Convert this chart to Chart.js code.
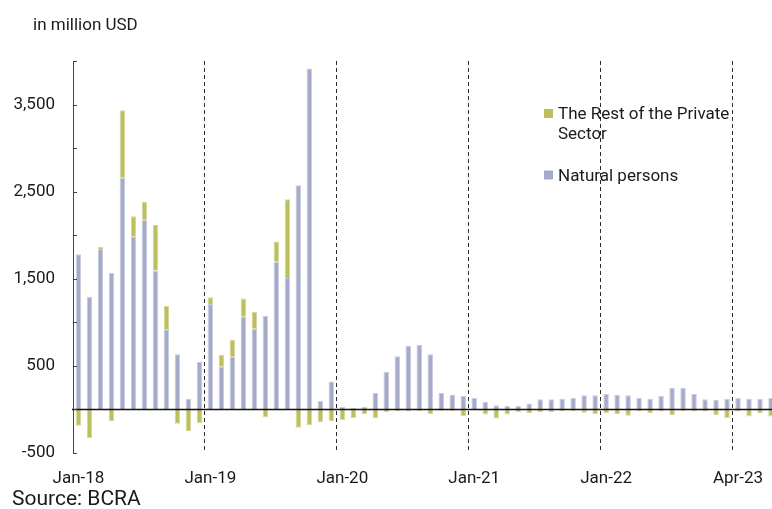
<!DOCTYPE html>
<html>
<head>
<meta charset="utf-8">
<script src="https://cdn.jsdelivr.net/npm/chart.js@4.4.1/dist/chart.umd.min.js"></script>
<style>
  html, body { margin: 0; padding: 0; background: #fff; overflow: hidden; width: 772px; height: 509px; }
  #wrap { position: relative; width: 772px; height: 509px; overflow: hidden; }
  canvas { position: absolute; left: 0; top: 0; }
  .unit { position: absolute; left: 33px; top: 14px; font: 17px Roboto, sans-serif; color: #1a1a1a; line-height: 20px; }
  .source { position: absolute; left: 12px; top: 486px; font: 21px Roboto, sans-serif; color: #1a1a1a; line-height: 24px; }
</style>
</head>
<body>
<div id="wrap">
  <canvas id="c" width="787" height="509"></canvas>
  <div class="unit">in million USD</div>
  <div class="source">Source: BCRA</div>
</div>
<script>
// Monthly categories, Jan-18 .. Apr-23
const months = [
  'Jan-18','Feb-18','Mar-18','Apr-18','May-18','Jun-18','Jul-18','Aug-18','Sep-18','Oct-18','Nov-18','Dec-18',
  'Jan-19','Feb-19','Mar-19','Apr-19','May-19','Jun-19','Jul-19','Aug-19','Sep-19','Oct-19','Nov-19','Dec-19',
  'Jan-20','Feb-20','Mar-20','Apr-20','May-20','Jun-20','Jul-20','Aug-20','Sep-20','Oct-20','Nov-20','Dec-20',
  'Jan-21','Feb-21','Mar-21','Apr-21','May-21','Jun-21','Jul-21','Aug-21','Sep-21','Oct-21','Nov-21','Dec-21',
  'Jan-22','Feb-22','Mar-22','Apr-22','May-22','Jun-22','Jul-22','Aug-22','Sep-22','Oct-22','Nov-22','Dec-22',
  'Jan-23','Feb-23','Mar-23','Apr-23'
];

// Net purchases by natural persons (million USD)
const naturalPersons = [
  1783, 1294, 1841, 1565, 2659, 1982, 2177, 1596, 920, 633, 124, 545,
  1210, 491, 606, 1064, 927, 1076, 1695, 1508, 2575, 3913, 97, 322,
  30, 20, 30, 189, 434, 610, 732, 743, 633, 189, 170, 153,
  132, 86, 48, 40, 40, 67, 117, 117, 124, 132, 163, 163,
  178, 170, 163, 132, 124, 155, 247, 247, 178, 117, 109, 124,
  132, 124, 124, 132
];

// Net purchases by the rest of the private sector (million USD)
const restPrivate = [
  -186, -331, 23, -136, 776, 237, 203, 520, 270, -163, -247, -155,
  77, 134, 191, 211, 195, -90, 234, 906, -209, -181, -143, -132,
  -123, -98, -52, -98, -33, -22, -25, -22, -52, -14, -22, -78,
  -9, -59, -105, -59, -33, -44, -33, -33, -22, -22, -37, -52,
  -44, -52, -71, -25, -44, -25, -63, -22, -25, -25, -63, -101,
  -25, -82, -44, -82
];

// Labelled x positions (every 12th month)
const xTickLabels = ['Jan-18', 'Jan-19', 'Jan-20', 'Jan-21', 'Jan-22', 'Apr-23'];
// Labelled y values
const yTickLabels = [-500, 500, 1500, 2500, 3500];

const FONT = 'Roboto, sans-serif';
const TEXT = '#1a1a1a';

// Year separators, inner y ticks, zero line and the legend
const decorations = {
  id: 'decorations',
  afterDatasetsDraw(chart) {
    const { ctx, chartArea: a, scales: { x, y } } = chart;
    ctx.save();
    // dashed separators between December and January
    ctx.strokeStyle = '#2a2a2a';
    ctx.lineWidth = 1;
    ctx.setLineDash([4, 3]);
    for (let i = 12; i < months.length; i += 12) {
      const px = Math.round((x.getPixelForValue(i - 1) + x.getPixelForValue(i)) / 2) - 0.5;
      ctx.beginPath();
      ctx.moveTo(px, a.top);
      ctx.lineTo(px, a.bottom);
      ctx.stroke();
    }
    ctx.setLineDash([]);
    // zero line
    const y0 = y.getPixelForValue(0);
    ctx.strokeStyle = '#111';
    ctx.lineWidth = 1.5;
    ctx.beginPath();
    ctx.moveTo(a.left - 1, y0);
    ctx.lineTo(a.right, y0);
    ctx.stroke();
    // short tick marks on the inner side of the y axis
    ctx.strokeStyle = '#444';
    ctx.lineWidth = 1;
    y.ticks.forEach(t => {
      const py = Math.round(y.getPixelForValue(t.value)) + 0.5;
      ctx.beginPath();
      ctx.moveTo(a.left, py);
      ctx.lineTo(a.left + 4, py);
      ctx.stroke();
    });
    ctx.restore();
  },
  afterDraw(chart, args, opts) {
    const { ctx } = chart;
    ctx.save();
    ctx.font = '17px ' + FONT;
    ctx.textBaseline = 'alphabetic';
    let baseY = opts.y;
    [1, 0].forEach(di => {
      const ds = chart.data.datasets[di];
      // wrap the label into lines no wider than maxWidth
      const words = ds.label.split(' ');
      const lines = [];
      let cur = '';
      words.forEach(w => {
        const test = cur ? cur + ' ' + w : w;
        if (ctx.measureText(test).width > opts.maxWidth && cur) { lines.push(cur); cur = w; }
        else cur = test;
      });
      lines.push(cur);
      ctx.fillStyle = ds.backgroundColor;
      ctx.fillRect(opts.x, baseY - 10, 9, 9);
      ctx.fillStyle = TEXT;
      lines.forEach((ln, k) => ctx.fillText(ln, opts.x + 14, baseY + k * opts.lineHeight));
      baseY += (lines.length - 1) * opts.lineHeight + opts.itemGap;
    });
    ctx.restore();
  }
};

new Chart(document.getElementById('c'), {
  type: 'bar',
  data: {
    labels: months,
    datasets: [
      {
        label: 'Natural persons',
        data: naturalPersons,
        backgroundColor: '#a5aac9',
        borderColor: '#c9cce0',
        borderWidth: 1,
        barPercentage: 0.5,
        categoryPercentage: 1.0
      },
      {
        label: 'The Rest of the Private Sector',
        data: restPrivate,
        backgroundColor: '#bdbf5e',
        borderColor: '#d6d79c',
        borderWidth: 1,
        barPercentage: 0.5,
        categoryPercentage: 1.0
      }
    ]
  },
  options: {
    responsive: false,
    animation: false,
    devicePixelRatio: 1,
    layout: { padding: { top: 61, left: 0, right: 0, bottom: 0 } },
    plugins: {
      legend: { display: false },
      tooltip: { enabled: false },
      decorations: { x: 544, y: 119, maxWidth: 180, lineHeight: 20, itemGap: 41.5 }
    },
    scales: {
      x: {
        stacked: true,
        offset: true,
        grid: { display: false, drawTicks: false },
        border: { display: false },
        ticks: {
          autoSkip: false,
          maxRotation: 0,
          minRotation: 0,
          padding: 16,
          color: TEXT,
          font: { family: FONT, size: 17 },
          callback: (v, i) => (i % 12 === 0 ? xTickLabels[i / 12] : '')
        },
        afterFit: s => { s.height = 56; }
      },
      y: {
        stacked: true,
        min: -500,
        max: 4000,
        grid: { display: false, drawTicks: false },
        border: { display: true, color: '#444', width: 1 },
        ticks: {
          stepSize: 500,
          padding: 18,
          color: TEXT,
          font: { family: FONT, size: 17 },
          callback: v => (yTickLabels.includes(v) ? v.toLocaleString('en-US') : '')
        },
        afterFit: s => { s.width = 73; }
      }
    }
  },
  plugins: [decorations]
});
</script>
</body>
</html>
